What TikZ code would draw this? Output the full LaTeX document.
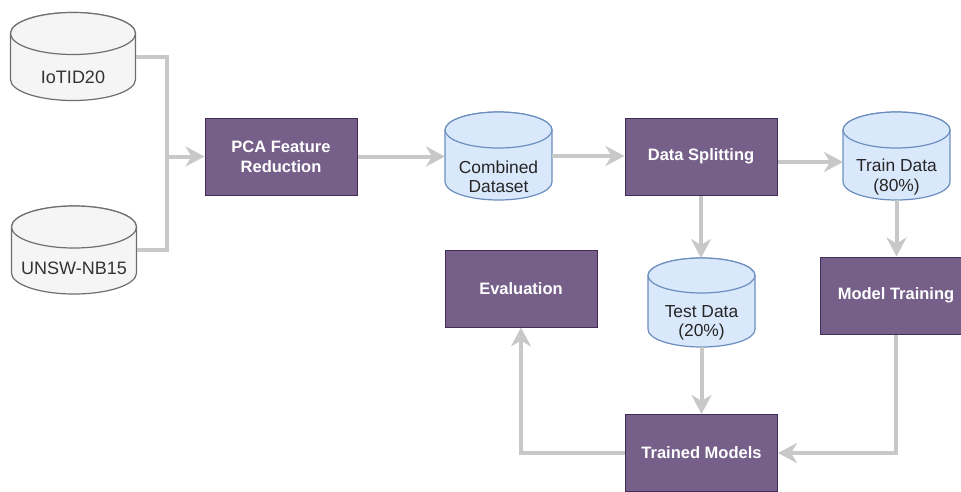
\documentclass[tikz,border=0pt]{standalone}
\usepackage{fontspec}
\setmainfont{Liberation Sans}
\usetikzlibrary{arrows.meta,calc}
\definecolor{boxfill}{HTML}{76608A}
\definecolor{boxline}{HTML}{432D57}
\definecolor{dbfill}{HTML}{DAE8FC}
\definecolor{dbline}{HTML}{6C8EBF}
\definecolor{grfill}{HTML}{F5F5F5}
\definecolor{grline}{HTML}{6E6E6E}
\definecolor{grtext}{HTML}{333333}
\definecolor{conncol}{HTML}{C8C8C8}

\newcommand{\dbcyl}[7]{%
 \pgfmathsetmacro\dbXa{#2-#4/2}%
 \pgfmathsetmacro\dbXb{#2+#4/2}%
 \pgfmathsetmacro\dbYt{-(#3)+#5/2-#6}%
 \pgfmathsetmacro\dbYb{-(#3)-#5/2+#6}%
 \pgfmathsetmacro\dbRx{#4/2}%
 \draw[#7] (\dbXa,\dbYt) -- (\dbXa,\dbYb) arc[start angle=180,end angle=360,x radius=\dbRx pt,y radius=#6pt] -- (\dbXb,\dbYt) arc[start angle=0,end angle=180,x radius=\dbRx pt,y radius=#6pt] -- cycle;
 \draw[#7] (#2,\dbYt) ellipse[x radius=\dbRx pt,y radius=#6pt];
 \node[dbanchor,minimum width=#4pt,minimum height=#5pt] (#1) at (#2,-#3) {};
}

\tikzset{
 procbox/.style={draw=boxline,line width=1pt,fill=boxfill,minimum width=152pt,minimum height=77pt,
   text=white,font=\fontsize{16.5}{20}\selectfont\bfseries,align=center,inner sep=0pt},
 bluedb/.style={draw=dbline,line width=1.2pt,fill=dbfill},
 graydb/.style={draw=grline,line width=1.2pt,fill=grfill},
 dbanchor/.style={draw=none,inner sep=0pt,outer sep=0pt,shape=rectangle},
 bluetext/.style={text=black!85,font=\fontsize{17.4}{19.5}\selectfont,align=center,inner sep=0pt},
 graytext/.style={text=grtext,font=\fontsize{18}{20}\selectfont,align=center,inner sep=0pt},
 conn/.style={draw=conncol,line width=4pt},
 arr/.style={conn,-{Stealth[length=19pt,width=20pt,inset=6pt]}},
}

\begin{document}
\begin{tikzpicture}[x=1pt,y=1pt]
\useasboundingbox (0,0) rectangle (961,-491);
\clip (0,0) rectangle (961,-491);

% data sources
\dbcyl{iot}{73}{56.5}{125}{88}{21}{graydb}
\node[graytext] (iott) at ($(iot.center)+(0,-20.5)$) {IoTID20};
\dbcyl{unsw}{74}{250}{125}{88}{21}{graydb}
\node[graytext] (unswt) at ($(unsw.center)+(0,-18)$) {UNSW-NB15};

% process boxes
\node[procbox] (pca) at (281,-156.5) {PCA Feature\\Reduction};
\node[procbox] (split) at (701,-156.5) {Data Splitting};
\node[procbox] (eval) at (521,-288.5) {Evaluation};
\node[procbox] (mt) at (896,-295.5) {Model Training};
\node[procbox] (tm) at (701.5,-453) {Trained Models};

% data cylinders
\dbcyl{comb}{498.5}{156}{107}{88}{18}{bluedb}
\node[bluetext] (combt) at ($(comb.center)+(0,-21)$) {Combined\\Dataset};
\dbcyl{train}{896.5}{156}{107}{88}{18}{bluedb}
\node[bluetext] (traint) at ($(train.center)+(0,-21)$) {Train Data\\(80\%)};
\dbcyl{test}{701.5}{302.5}{107}{89}{17.5}{bluedb}
\node[bluetext] (testt) at ($(test.center)+(0,-20.5)$) {Test Data\\(20\%)};

% connectors
\coordinate (j) at (167,-156.5);
\draw[conn] (iot.east) -| (j);
\draw[conn] (unsw.east) -| (j);
\draw[arr] (j) -- (pca.west);
\draw[arr] (pca.east) -- (pca.east -| comb.west);
\draw[arr] (comb.east) -- (comb.east -| split.west);
\draw[arr] ([yshift=-5.5pt]split.east) -- ([yshift=-5.5pt]split.east -| train.west);
\draw[arr] (split.south) -- (split.south |- test.north);
\draw[arr] (train.south) -- (train.south |- mt.north);
\draw[arr] (test.south) -- (test.south |- tm.north);
\draw[arr] (mt.south) |- (tm.east);
\draw[arr] (tm.west) -| (eval.south);
\end{tikzpicture}
\end{document}
